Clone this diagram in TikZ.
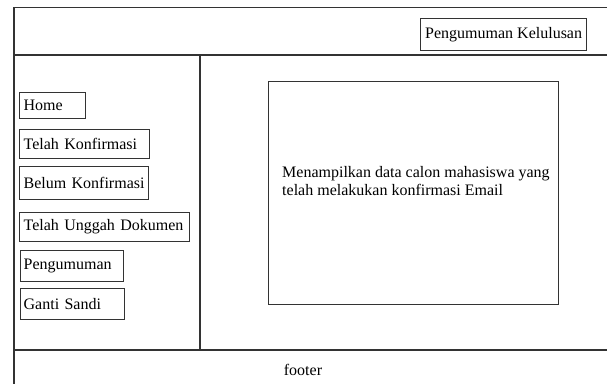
\documentclass[tikz,border=0pt]{standalone}
\usepackage{fontspec}
\setmainfont{Liberation Serif}
\begin{document}
\begin{tikzpicture}[x=1pt,y=-1pt,
  frameline/.style={draw=black!80,line width=1.3pt},
  uibox/.style={draw=black!80,line width=1.3pt,font=\fontsize{16}{18}\selectfont,anchor=north west},
  sidebox/.style={uibox,inner xsep=4pt,inner ysep=0pt,align=left},
  plaintext/.style={font=\fontsize{16}{18}\selectfont,inner sep=0pt}]
\useasboundingbox (0,0) rectangle (607,383);
\clip (0,0) rectangle (607,383);
% frame
\coordinate (tl) at (14,7.5);
\coordinate (tr) at (615,7.5);
\coordinate (hl) at (14,55);
\coordinate (hr) at (615,55);
\coordinate (dtop) at (200,55);
\coordinate (dbot) at (200,350);
\coordinate (bl) at (14,350);
\coordinate (br) at (615,350);
\coordinate (lb) at (14,395);
\draw[frameline] (tr) -- (tl) -- (lb);
\draw[frameline] (hl) -- (hr);
\draw[frameline] (bl) -- (br);
\draw[frameline] (dtop) -- (dbot);
% header
\node[uibox,minimum width=166pt,minimum height=32pt,inner sep=0pt] (kelulusan) at (420,18) {Pengumuman Kelulusan};
% sidebar
\node[sidebox,text width=58pt,minimum height=26pt] (home) at (19,92) {Home};
\node[sidebox,text width=122pt,minimum height=29pt] (telah) at (19,129) {Telah Konfirmasi};
\node[sidebox,text width=121pt,minimum height=33pt] (belum) at (19,166) {Belum Konfirmasi};
\node[sidebox,text width=162pt,minimum height=29pt] (unggah) at (19,212) {Telah Unggah Dokumen};
\node[sidebox,text width=95pt,minimum height=31pt,inner xsep=3pt,text width=97pt] (pengumuman) at (20,250) {Pengumuman};
\node[sidebox,text width=98pt,minimum height=31pt,inner xsep=3pt] (sandi) at (20,288) {Ganti Sandi};
% content
\node[uibox,minimum width=290pt,minimum height=223pt,inner sep=0pt] (content) at (268,81) {};
\node[plaintext,anchor=west,align=left] (contenttext) at ([xshift=14pt,yshift=12.4pt]content.west) {Menampilkan data calon mahasiswa yang\\telah melakukan konfirmasi Email};
% footer
\node[plaintext,anchor=base] (footer) at (303,375) {footer};
\end{tikzpicture}
\end{document}
